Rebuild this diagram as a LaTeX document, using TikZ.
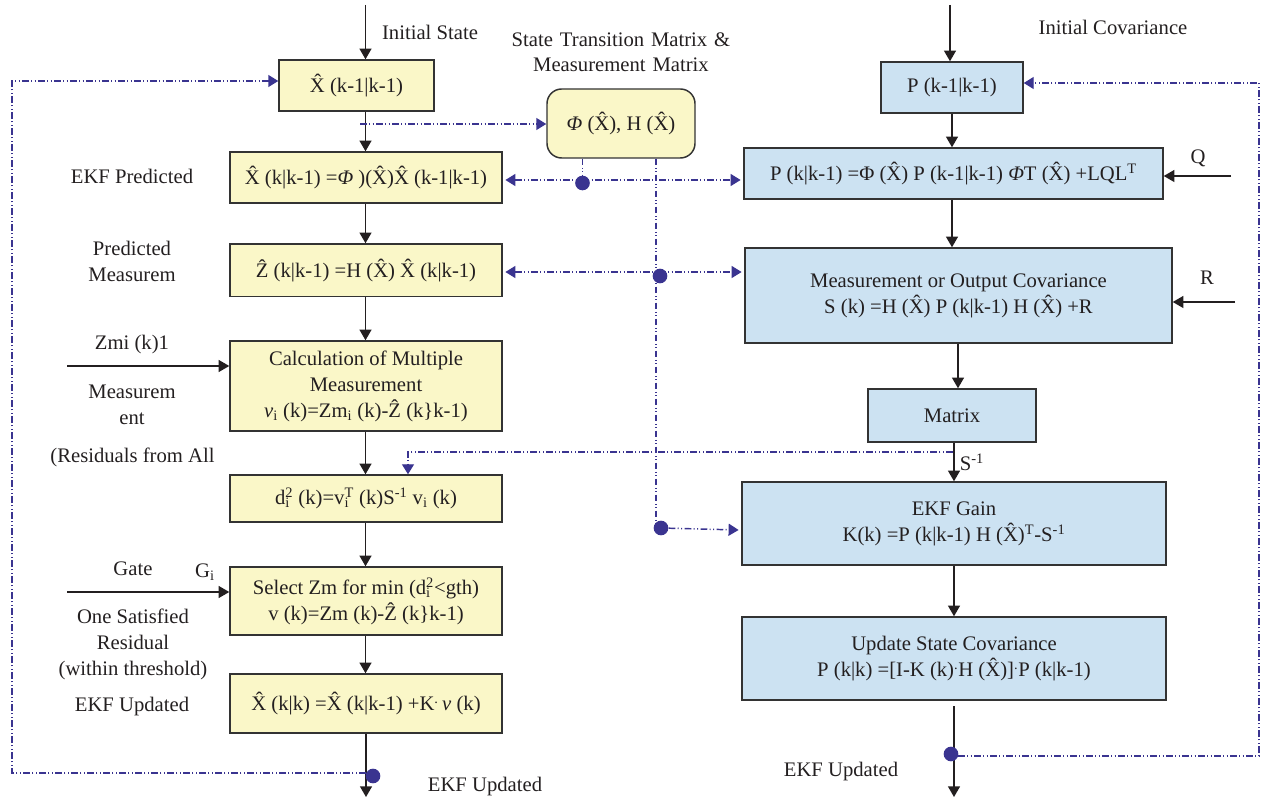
\documentclass[tikz,border=0pt]{standalone}
\usepackage{fontspec}
\setmainfont{Liberation Serif}
\usetikzlibrary{arrows.meta}
\definecolor{ylw}{HTML}{FAF7C8}
\definecolor{blu}{HTML}{CCE2F2}
\definecolor{dsh}{HTML}{3A3490}
\definecolor{brd}{HTML}{333333}
\definecolor{ink}{HTML}{231F20}
\newcommand\supsubx[2]{{\ooalign{\textsuperscript{#1}\cr\textsubscript{#2}\cr}}}
\begin{document}
\begin{tikzpicture}[x=0.75pt,y=-0.75pt,
  every node/.style={font=\fontsize{15.5}{19.5}\selectfont, text=ink},
  ybox/.style={draw=brd, line width=1.1pt, fill=ylw, inner sep=0pt, align=center},
  bbox/.style={draw=brd, line width=1.1pt, fill=blu, inner sep=0pt, align=center},
  arr/.style={line width=1pt, draw=ink, -{Triangle[length=8pt,width=9pt]}},
  dd/.style={draw=dsh, line width=1.1pt, dash pattern=on 5pt off 1.8pt on 0.8pt off 1.8pt on 0.8pt off 1.8pt},
  dtip/.tip={Triangle[length=7.5pt,width=9pt]},
  darr/.style={dd, -{dtip}},
  dot/.style={circle, fill=dsh, inner sep=0pt, minimum size=11pt},
  lbl/.style={align=center, inner sep=0pt}
]
\useasboundingbox (0,0) rectangle (1261,805);

% ---------- left column ----------
\node[ybox, minimum width=116.25pt, minimum height=38.25pt] (xa) at (356.5,85.5) {\^X (k-1|k-1)};
\node[ybox, minimum width=204pt, minimum height=38.25pt] (xp) at (366,177.5) {\^X (k|k-1) =\textit{Φ} )(\^X)\^X (k-1|k-1)};
\node[ybox, minimum width=204pt, minimum height=39.5pt] (zp) at (366,270.3) {\^Z (k|k-1) =H (\^X) \^X (k|k-1)};
\node[ybox, minimum width=204pt, minimum height=67.5pt] (calc) at (366,386) {Calculation of Multiple\\Measurement\\\textit{ν}\textsubscript{i} (k)=Zm\textsubscript{i} (k)-\^Z (k\}k-1)};
\node[ybox, minimum width=204pt, minimum height=35.25pt] (dsq) at (366,498.5) {d\supsubx{2}{i} (k)=v\supsubx{T}{i} (k)S\textsuperscript{-1} v\textsubscript{i} (k)};
\node[ybox, minimum width=204pt, minimum height=51pt] (sel) at (366,601) {Select Zm for min (d\supsubx{2}{i}<gth)\\v (k)=Zm (k)-\^Z (k\}k-1)};
\node[ybox, minimum width=204pt, minimum height=44.25pt] (xu) at (366,703.5) {\^X (k|k) =\^X (k|k-1) +K\textsuperscript{.}\,\textit{ν} (k)};

% ---------- middle ----------
\node[ybox, rounded corners=11pt, minimum width=111pt, minimum height=51.75pt] (phi) at (621,123.5) {\textit{Φ} (\^X), H (\^X)};

% ---------- right column ----------
\node[bbox, minimum width=106.5pt, minimum height=38.25pt] (pa) at (952,87.5) {P (k-1|k-1)};
\node[bbox, minimum width=314.25pt, minimum height=38.25pt] (pp) at (953.5,173.5) {P (k|k-1) =Φ (\^X) P (k-1|k-1) \textit{Φ}T (\^X) +LQL\textsuperscript{T}};
\node[bbox, minimum width=320.25pt, minimum height=71.25pt] (ms) at (958.5,295.5) {Measurement or Output Covariance\\S (k) =H (\^X) P (k|k-1) H (\^X) +R};
\node[bbox, minimum width=126pt, minimum height=39.75pt] (mx) at (952,415.5) {Matrix};
\node[bbox, minimum width=318pt, minimum height=62.25pt] (gain) at (954,523.5) {EKF Gain\\K(k) =P (k|k-1) H (\^X)\textsuperscript{T}-S\textsuperscript{-1}};
\node[bbox, minimum width=318pt, minimum height=62.25pt] (upd) at (954,658.5) {Update State Covariance\\P (k|k) =[I-K (k)\textsuperscript{.}H (\^X)]\textsuperscript{.}P (k|k-1)};

% ---------- labels ----------
\node[lbl] (lInit) at (430,32) {Initial State};
\node[lbl] (lCov) at (1113,27) {Initial Covariance};
\node[lbl, text width=300pt] (lSTM) at (621,52) {State Transition Matrix \&\\[-0.5pt]Measurement Matrix};
\node[lbl] (lPred) at (132,176) {EKF Predicted};
\node[lbl] (lPM) at (132,261) {Predicted\\Measurem};
\node[lbl] (lZmi) at (132,345) {Zmi (k)1};
\node[lbl] (lMeas) at (132,405) {Measurem\\ent};
\node[lbl] (lRes) at (132.5,457) {(Residuals from All};
\node[lbl] (lGate) at (133,569) {Gate};
\node[lbl] (lGi) at (205,572) {G\textsubscript{i}};
\node[lbl] (lOne) at (133,644) {One Satisfied\\Residual\\(within threshold)};
\node[lbl] (lUpd) at (132,707) {EKF Updated};
\node[lbl] (lUpd2) at (485,787) {EKF Updated};
\node[lbl] (lQ) at (1198,158) {Q};
\node[lbl] (lR) at (1207,278) {R};
\node[lbl] (lS) at (972,462) {S\textsuperscript{-1}};
\node[lbl] (lUpd3) at (841,772) {EKF Updated};

% ---------- coordinates ----------
\coordinate (cL) at (365.5,0);
\coordinate (tl) at (365.5,5);
\coordinate (bl) at (366,797);
\coordinate (tr) at (950,5);
\coordinate (br) at (954,797);
\coordinate (zin) at (67,366);
\coordinate (gin) at (67,592);
\coordinate (qin) at (1231,176);
\coordinate (rin) at (1235,302);

% ---------- black arrows ----------
\draw[arr] (tl) -- (tl |- xa.north);
\draw[arr] (xa.south -| cL) -- (xp.north -| cL);
\draw[arr] (xp.south -| cL) -- (zp.north -| cL);
\draw[arr] (zp.south -| cL) -- (calc.north -| cL);
\draw[arr] (calc.south -| cL) -- (dsq.north -| cL);
\draw[arr] (dsq.south -| cL) -- (sel.north -| cL);
\draw[arr] (sel.south -| cL) -- (xu.north -| cL);
\draw[arr] (xu.south -| bl) -- (bl);
\draw[arr] (zin) -- (zin -| calc.west);
\draw[arr] (gin) -- (gin -| sel.west);

\draw[arr] (tr) -- (tr |- pa.north);
\draw[arr] (pa.south) -- (pp.north -| pa.south);
\draw[arr] (pp.south -| pa.south) -- (ms.north -| pa.south);
\draw[arr] ([xshift=6*0.75pt]ms.south -| mx.south) -- ([xshift=6*0.75pt]mx.north);
\draw[arr] (mx.south -| br) -- (gain.north -| br);
\draw[arr] (gain.south -| br) -- (upd.north -| br);
\draw[arr] ([yshift=-4pt]upd.south -| br) -- (br);
\draw[arr] (qin) -- (qin -| pp.east);
\draw[arr] (rin) -- (rin -| ms.east);

% ---------- dash-dot connectors ----------
\coordinate (lb) at (366,773);
\coordinate (lc) at (12,773);
\coordinate (lt) at (12,81);
\node[dot] (d1) at (373,776) {};
\draw[darr] (lb) -- (lc) -- (lt) -- (lt -| xa.west);

\coordinate (px) at (360,124);
\draw[darr] (px) -- (px -| phi.west);

\coordinate (r1) at (0,180);
\coordinate (v1) at (582.5,0);
\coordinate (v2) at (656,0);
\node[dot] (d2) at (582.5,183) {};
\draw[dd, {dtip}-{dtip}] ([xshift=2pt]r1 -| xp.east) -- ([xshift=-2pt]r1 -| pp.west);
\draw[dd] (phi.south -| v1) -- (d2);

\coordinate (r2) at (0,272);
\node[dot] (d3) at (660,276) {};
\draw[dd, {dtip}-{dtip}] ([xshift=2pt]r2 -| zp.east) -- ([xshift=-2pt]r2 -| ms.west);

\coordinate (vb) at (656,527);
\node[dot] (d4) at (661,528) {};
\coordinate (r3) at (0,530);
\draw[dd] (phi.south -| v2) -- (vb);
\draw[darr] (d4) -- ([xshift=-2pt]r3 -| gain.west);

\coordinate (sa) at (953,452);
\coordinate (sb) at (408,452);
\draw[darr] (sa) -- (sb) -- (sb |- dsq.north);

\coordinate (rb) at (958,756);
\coordinate (rc) at (1259,756);
\coordinate (rt) at (1259,83);
\node[dot] (d5) at (951,754) {};
\draw[darr] (rb) -- (rc) -- (rt) -- (rt -| pa.east);
\end{tikzpicture}
\end{document}
